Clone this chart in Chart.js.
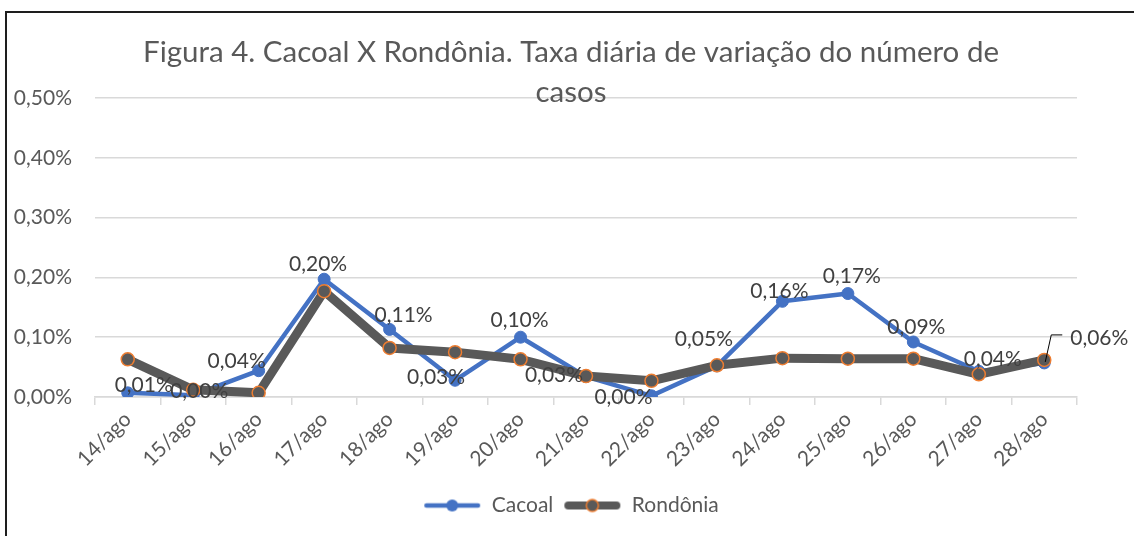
<!DOCTYPE html>
<html>
<head>
<meta charset="utf-8">
<script src="https://cdn.jsdelivr.net/npm/chart.js@4.4.1/dist/chart.umd.min.js"></script>
<style>
  html, body { margin: 0; padding: 0; background: #fff; }
  #wrap { position: relative; width: 1134px; height: 536px; overflow: hidden; }
  #frame { position: absolute; left: 5px; top: 11px; width: 1200px; height: 600px;
           border-top: 2px solid #1e1e1e; border-left: 2px solid #1e1e1e; pointer-events: none; }
  canvas { position: absolute; left: 0; top: 0; }
</style>
</head>
<body>
<div id="wrap">
  <canvas id="c" width="1134" height="536"></canvas>
  <div id="frame"></div>
</div>
<script>
// ---- data ----
const categories = ["14/ago","15/ago","16/ago","17/ago","18/ago","19/ago","20/ago","21/ago","22/ago","23/ago","24/ago","25/ago","26/ago","27/ago","28/ago"];
const cacoal = [0.007, 0.003, 0.044, 0.197, 0.113, 0.028, 0.100, 0.034, 0.002, 0.052, 0.160, 0.173, 0.092, 0.043, 0.057];
const rondonia = [0.063, 0.012, 0.007, 0.177, 0.082, 0.075, 0.063, 0.035, 0.027, 0.053, 0.065, 0.064, 0.064, 0.038, 0.062];
const yTicks = [0, 0.1, 0.2, 0.3, 0.4, 0.5];
const titleLines = ["Figura 4. Cacoal X Rondônia. Taxa diária de variação do número de", "casos"];

// ---- styles ----
const FONT = "Lato, 'Open Sans', sans-serif";
const FS = 21;
const BLUE = "#4472C4", GRAY = "#595959", ORANGE = "#ED7D31";
// label offsets (dx, dy) in pixels relative to each Cacoal point
const labelOffsets = [[16,-8],[6,-4],[-22,-9],[-6,-15],[14,-14],[-19,-3],[-1,-17],[-32,-1],[-28,1],[-13,-27],[-3,-10],[4,-17],[3,-15],[14,-12],[55,-25]];
const leaderIndex = 14;

function fmt(v) { return v.toFixed(2).replace('.', ',') + '%'; }

function legendImg(color, lw, r, fill, stroke, sw) {
  const c = document.createElement('canvas');
  c.width = 58; c.height = 18;
  const g = c.getContext('2d');
  g.strokeStyle = color; g.lineWidth = lw; g.lineCap = 'round';
  g.beginPath(); g.moveTo(lw/2 + 1, 9); g.lineTo(58 - lw/2 - 1, 9); g.stroke();
  g.beginPath(); g.arc(29, 9, r, 0, Math.PI*2);
  g.fillStyle = fill; g.fill();
  if (stroke) { g.strokeStyle = stroke; g.lineWidth = sw; g.stroke(); }
  return c;
}
const legCacoal = legendImg(BLUE, 4.5, 6, BLUE, null, 0);
const legRond = legendImg(GRAY, 8, 6, GRAY, ORANGE, 1.5);

const labelPlugin = {
  id: 'cacoalLabels',
  afterDatasetsDraw(chart) {
    const meta = chart.getDatasetMeta(0);
    const ctx = chart.ctx;
    ctx.save();
    ctx.font = FS + "px " + FONT;
    ctx.fillStyle = "#404040";
    ctx.textAlign = 'center';
    ctx.textBaseline = 'middle';
    meta.data.forEach((pt, i) => {
      const [dx, dy] = labelOffsets[i];
      if (i === leaderIndex) {
        ctx.strokeStyle = "#000"; ctx.lineWidth = 1;
        ctx.beginPath();
        ctx.moveTo(pt.x + 1, pt.y - 1);
        ctx.lineTo(pt.x + 7, pt.y - 28);
        ctx.lineTo(pt.x + 18, pt.y - 28);
        ctx.stroke();
      }
      ctx.fillText(fmt(cacoal[i]), pt.x + dx, pt.y + dy);
    });
    ctx.restore();
  }
};

new Chart(document.getElementById('c'), {
  type: 'line',
  data: {
    labels: categories,
    datasets: [
      { label: 'Cacoal', data: cacoal, order: 1,
        borderColor: BLUE, backgroundColor: BLUE, borderWidth: 4.5,
        borderJoinStyle: 'round', borderCapStyle: 'round',
        pointRadius: 6, pointBorderWidth: 1, pointBackgroundColor: BLUE, pointBorderColor: BLUE,
        pointStyle: 'circle', tension: 0 },
      { label: 'Rondônia', data: rondonia, order: 0,
        borderColor: GRAY, backgroundColor: GRAY, borderWidth: 9,
        borderJoinStyle: 'round', borderCapStyle: 'round',
        pointRadius: 6.5, pointBorderWidth: 1.5, pointBackgroundColor: GRAY, pointBorderColor: ORANGE,
        pointStyle: 'circle', tension: 0 }
    ]
  },
  options: {
    responsive: false,
    animation: false,
    events: [],
    layout: { padding: { left: 8, right: 0, top: 32, bottom: 10 } },
    scales: {
      y: {
        min: 0, max: 0.5,
        afterBuildTicks(scale) { scale.ticks = yTicks.map(v => ({ value: v })); },
        afterFit(scale) { scale.width = 87; },
        ticks: { callback: v => fmt(v), font: { size: FS, family: FONT }, color: GRAY, padding: 23 },
        grid: { color: '#d9d9d9', lineWidth: 1.5, drawTicks: false },
        border: { display: false }
      },
      yR: {
        position: 'right', min: 0, max: 0.5,
        afterFit(scale) { scale.width = 57; },
        ticks: { display: false },
        grid: { display: false, drawTicks: false },
        border: { display: false }
      },
      x: {
        offset: true,
        afterFit(scale) { scale.height = 88; },
        ticks: { minRotation: 45, maxRotation: 45, font: { size: FS, family: FONT }, color: GRAY, padding: 2, autoSkip: false },
        grid: { offset: true, drawOnChartArea: false, drawTicks: true, tickLength: 8, color: '#d9d9d9', lineWidth: 1.5 },
        border: { display: true, color: '#d9d9d9', width: 1.5 }
      }
    },
    plugins: {
      title: {
        display: true, text: titleLines, color: GRAY,
        font: { size: 29.5, family: FONT, weight: 'normal', lineHeight: 40/29.5 },
        padding: { top: 0, bottom: -14 }
      },
      legend: {
        position: 'bottom',
        labels: {
          usePointStyle: true, pointStyleWidth: 58, boxHeight: 18,
          font: { size: FS, family: FONT }, color: GRAY, padding: 10,
          sort: (a, b) => a.datasetIndex - b.datasetIndex,
          generateLabels(chart) {
            return chart.data.datasets.map((ds, i) => ({
              text: ds.label, datasetIndex: i, fontColor: GRAY,
              pointStyle: i === 0 ? legCacoal : legRond,
              fillStyle: ds.borderColor, strokeStyle: ds.borderColor, lineWidth: 0, hidden: false
            }));
          }
        }
      },
      tooltip: { enabled: false }
    }
  },
  plugins: [labelPlugin]
});
</script>
</body>
</html>
